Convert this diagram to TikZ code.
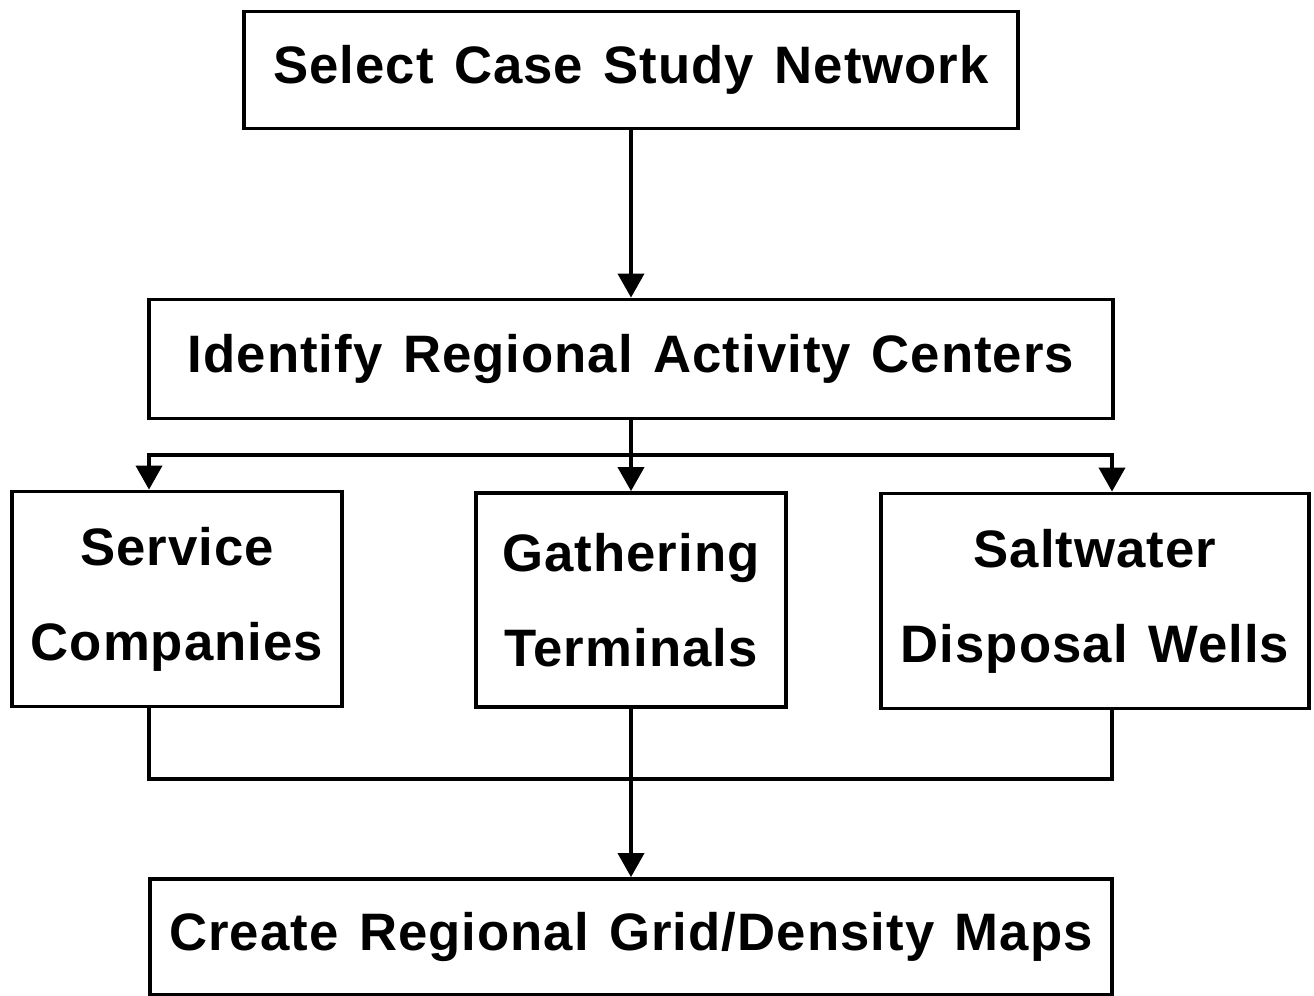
\documentclass[tikz,border=0pt]{standalone}
\usepackage{fontspec}
\setmainfont[WordSpace=1.3, LetterSpace=2]{Liberation Sans}
\usetikzlibrary{arrows.meta}

\begin{document}
\begin{tikzpicture}
        [
            x=0.02cm, y=-0.02cm,
            line width=2.2pt,
            box/.style={draw, line width=2.2pt, align=center, inner sep=0pt,
                font=\fontsize{30}{54}\selectfont\bfseries},
            flow/.style={-{Triangle[length=0.48cm,width=0.52cm]}},
        ]
        \useasboundingbox (0,0) rectangle (1314,995);

        \node[box, minimum width=15.48cm, minimum height=2.34cm] (select) at (631,70) {Select Case Study Network};
        \node[box, minimum width=19.3cm, minimum height=2.38cm] (identify) at (631,359) {Identify Regional Activity Centers};
        \node[box, minimum width=6.6cm, minimum height=4.3cm] (service) at (177,599) {Service\\Companies};
        \node[box, minimum width=6.2cm, minimum height=4.28cm] (gathering) at (631,600) {Gathering\\Terminals};
        \node[box, minimum width=8.56cm, minimum height=4.3cm] (saltwater) at (1095,601) {Saltwater\\Disposal Wells};
        \node[box, minimum width=19.26cm, minimum height=2.32cm] (create) at (631,937) {Create Regional Grid/Density Maps};

        \coordinate (split) at (631,455);
        \coordinate (lft) at (149,455);
        \coordinate (rgt) at (1112,455);
        \coordinate (merge) at (631,779);

        \draw[flow] (select) -- (identify);
        \draw (identify) -- (split);
        \draw[flow] (split) -- (lft) -- (lft |- service.north);
        \draw[flow] (split) -- (gathering);
        \draw[flow] (split) -- (rgt) -- (rgt |- saltwater.north);

        \draw (lft |- service.south) |- (merge);
        \draw (rgt |- saltwater.south) |- (merge);
        \draw (gathering) -- (merge);
        \draw[flow] (merge) -- (create);
    \end{tikzpicture}
\end{document}
